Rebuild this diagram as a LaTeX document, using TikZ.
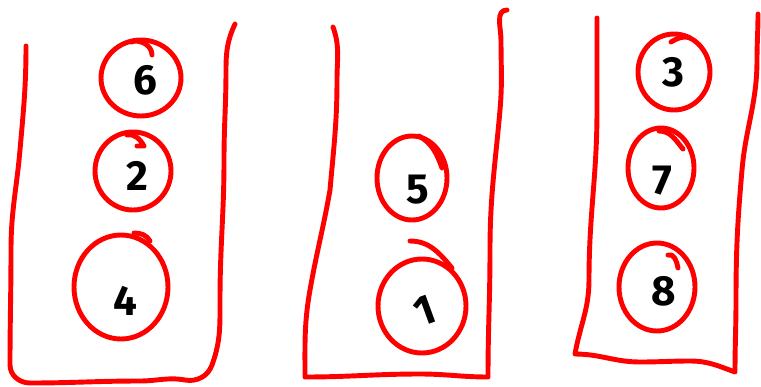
\documentclass[tikz,border=0pt]{standalone}
\usepackage{fontspec}
\setmainfont{Fira Sans}
\usepackage{tikz}

\begin{document}
\begin{tikzpicture}[x=0.02cm, y=-0.02cm,
    pen/.style={red, line width=2.8pt, line cap=round, line join=round},
    digit/.style={text=black, font=\fontsize{24}{24}\selectfont\bfseries, inner sep=0pt}]
  \useasboundingbox (0,0) rectangle (761,386);

  % containers
  \draw[pen] (26,46) to[out=-90,in=85] (20,150) to[out=-95,in=90] (11,250)
    to[out=-90,in=90] (10,365) to[out=-90,in=180] (30,383) to[out=0,in=180] (140,381)
    to[out=0,in=170] (185,380) to[out=-10,in=-110] (212,365) to[out=70,in=-90] (220,300)
    to[out=90,in=-90] (224,160) to[out=90,in=-90] (226,70) to[out=90,in=-115] (235,24);
  \draw[pen] (333,27) to[out=-70,in=90] (337,80) to[out=-90,in=85] (330,190)
    to[out=-100,in=80] (310,290) to[out=-100,in=90] (305,377) to[out=0,in=180] (420,374)
    to[out=0,in=180] (488,377) to[out=90,in=-90] (490,250) to[out=90,in=-95] (500,110)
    to[out=85,in=-90] (501,40) to[out=90,in=180] (507,10);
  \draw[pen] (597,18) to[out=-90,in=90] (597,110) to[out=-90,in=90] (589,280)
    to[out=-90,in=80] (575,354) to[out=0,in=180] (640,362) to[out=0,in=180] (690,361)
    to[out=0,in=160] (735,372) to[out=90,in=-90] (736,300) to[out=90,in=-95] (742,170)
    to[out=85,in=-90] (757,60) to[out=90,in=-90] (758,14);

  % left container
  \draw[pen] (141,78) ellipse [x radius=40, y radius=38];
  \draw[pen] (131,42) to[out=20,in=90] (152,55);
  \node[digit] (d6) at (145,80) {6};
  \draw[pen] (133,171) ellipse [x radius=38, y radius=39];
  \draw[pen] (127,135) to[out=10,in=120] (144,146) (137,146) -- (144,146);
  \node[digit] (d2) at (137,176) {2};
  \draw[pen] (121,287) ellipse [x radius=47, y radius=52];
  \draw[pen] (134,233) to[out=0,in=120] (150,241);
  \node[digit] (d4) at (125,301) {4};

  % middle container
  \draw[pen] (412,178) ellipse [x radius=35, y radius=42];
  \draw[pen] (419,136) to[out=-30,in=110] (442,168);
  \node[digit] (d5) at (418,190) {5};
  \draw[pen] (422,306) ellipse [x radius=44, y radius=47];
  \draw[pen] (410,241) to[out=0,in=130] (452,268);
  \node[digit, rotate=20] (d1) at (425,311) {1};

  % right container
  \draw[pen] (674,72) ellipse [x radius=36, y radius=38];
  \draw[pen] (671,42) to[out=30,in=160] (690,38);
  \node[digit] (d3) at (673,72) {3};
  \draw[pen] (661,168) ellipse [x radius=33, y radius=40];
  \draw[pen] (659,131) to[out=0,in=130] (683,149);
  \node[digit] (d7) at (662,181) {7};
  \draw[pen] (657,287) ellipse [x radius=38, y radius=44];
  \draw[pen] (668,255) to[out=20,in=100] (678,268);
  \node[digit] (d8) at (664,291) {8};
\end{tikzpicture}
\end{document}
